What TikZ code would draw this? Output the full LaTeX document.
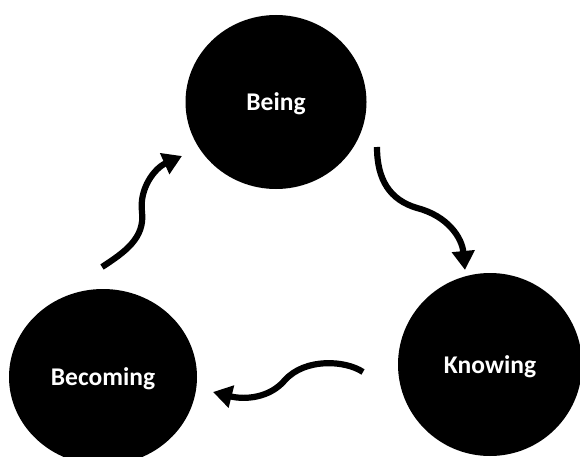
\documentclass[tikz,border=0pt]{standalone}
\usepackage{fontspec}
\setmainfont{Carlito}
\usetikzlibrary{shapes.geometric,arrows.meta}
\begin{document}
\begin{tikzpicture}[x=1pt,y=-1pt,
  stage/.style={ellipse,fill=black,inner sep=0pt,text=white,text depth=0pt,
    font=\fontsize{25.5}{30}\selectfont\bfseries},
  flow/.style={line width=6.2pt,-{Triangle[length=19pt,width=22pt]}}]
  \useasboundingbox (0,0) rectangle (580,457);
  \clip (0,0) rectangle (580,457);

  % the three stages
  \node[stage,minimum width=181pt,minimum height=174pt] (being) at (276,102) {Being};
  \node[stage,minimum width=188pt,minimum height=176pt] (becoming) at (103,377) {Becoming};
  \node[stage,minimum width=184pt,minimum height=183pt] (knowing) at (490,364.5) {Knowing};

  % free ends of the wavy arrows
  \coordinate (b1) at (377,147);
  \coordinate (b2) at (465,270);
  \coordinate (k1) at (363,372);
  \coordinate (k2) at (213,392);
  \coordinate (c1) at (102,267);
  \coordinate (c2) at (182,156);

  % Being -> Knowing
  \draw[flow] (b1) .. controls (377,180) and (390,200) .. (417,208)
                   .. controls (448,216) and (462,238) .. (b2);
  % Knowing -> Becoming
  \draw[flow] (k1) .. controls (345,360) and (305,358) .. (285,380)
                   .. controls (270,398) and (245,400) .. (k2);
  % Becoming -> Being
  \draw[flow] (c1) .. controls (125,252) and (145,238) .. (142,212)
                   .. controls (139,188) and (155,168) .. (c2);
\end{tikzpicture}
\end{document}
